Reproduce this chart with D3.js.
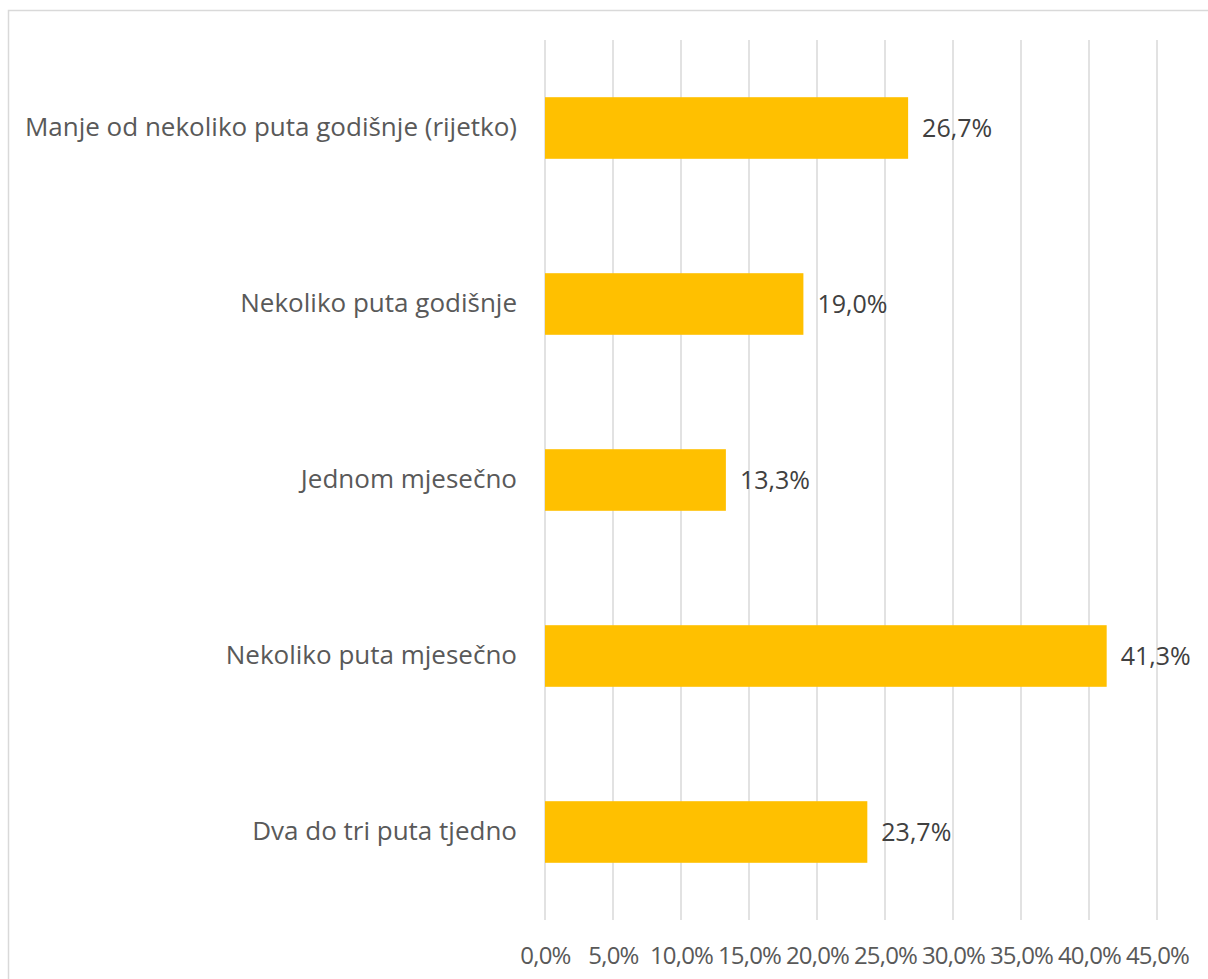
<!DOCTYPE html>
<html>
<head>
<meta charset="utf-8">
<script src="https://cdn.jsdelivr.net/npm/d3@7"></script>
<style>
  html, body { margin: 0; padding: 0; background: #fff; }
  svg { display: block; }
</style>
</head>
<body>
<svg id="chart" width="1208" height="979"></svg>
<script>
const categories = [
  "Manje od nekoliko puta godišnje (rijetko)",
  "Nekoliko puta godišnje",
  "Jednom mjesečno",
  "Nekoliko puta mjesečno",
  "Dva do tri puta tjedno"
];
const values = [26.7, 19.0, 13.3, 41.3, 23.7];
const tickValues = [0, 5, 10, 15, 20, 25, 30, 35, 40, 45];

const svg = d3.select("#chart");
const fontFamily = "'Open Sans', 'Liberation Sans', sans-serif";

// outer chart border (partially outside the view)
svg.append("rect")
  .attr("x", 8.5).attr("y", 10.5)
  .attr("width", 1300).attr("height", 1100)
  .attr("fill", "none")
  .attr("stroke", "#d9d9d9")
  .attr("stroke-width", 1.5);

const x = d3.scaleLinear().domain([0, 45]).range([545, 1157]);
const y = d3.scaleBand().domain(categories).range([40, 920])
  .paddingInner(0.65).paddingOuter(0.325);

// gridlines
svg.append("g").selectAll("line").data(tickValues).join("line")
  .attr("x1", d => x(d)).attr("x2", d => x(d))
  .attr("y1", 40).attr("y2", 920)
  .attr("stroke", "#d9d9d9").attr("stroke-width", 1.5);

// x axis tick labels
const xAxis = d3.axisBottom(x).tickValues(tickValues)
  .tickSize(0).tickPadding(0)
  .tickFormat(d => d3.format(".1f")(d).replace(".", ",") + "%");
const gx = svg.append("g").attr("transform", "translate(0,947)").call(xAxis);
gx.select(".domain").remove();
gx.selectAll("text")
  .attr("font-family", fontFamily).attr("font-size", 24)
  .attr("letter-spacing", -0.8)
  .attr("fill", "#595959");

// bars
svg.append("g").selectAll("rect").data(values).join("rect")
  .attr("x", x(0))
  .attr("y", (d, i) => y(categories[i]))
  .attr("width", d => x(d) - x(0))
  .attr("height", y.bandwidth())
  .attr("fill", "#FFC000");

// category labels
const yAxis = d3.axisLeft(y).tickSize(0).tickPadding(28);
const gy = svg.append("g").attr("transform", `translate(${x(0)},0)`).call(yAxis);
gy.select(".domain").remove();
gy.selectAll("text")
  .attr("font-family", fontFamily).attr("font-size", 26)
  .attr("fill", "#595959");

// data labels
svg.append("g").selectAll("text").data(values).join("text")
  .attr("x", d => x(d) + 14)
  .attr("y", (d, i) => y(categories[i]) + y.bandwidth() / 2)
  .attr("dy", "0.35em")
  .attr("font-family", fontFamily).attr("font-size", 25)
  .attr("fill", "#404040")
  .text(d => d3.format(".1f")(d).replace(".", ",") + "%");
</script>
</body>
</html>
